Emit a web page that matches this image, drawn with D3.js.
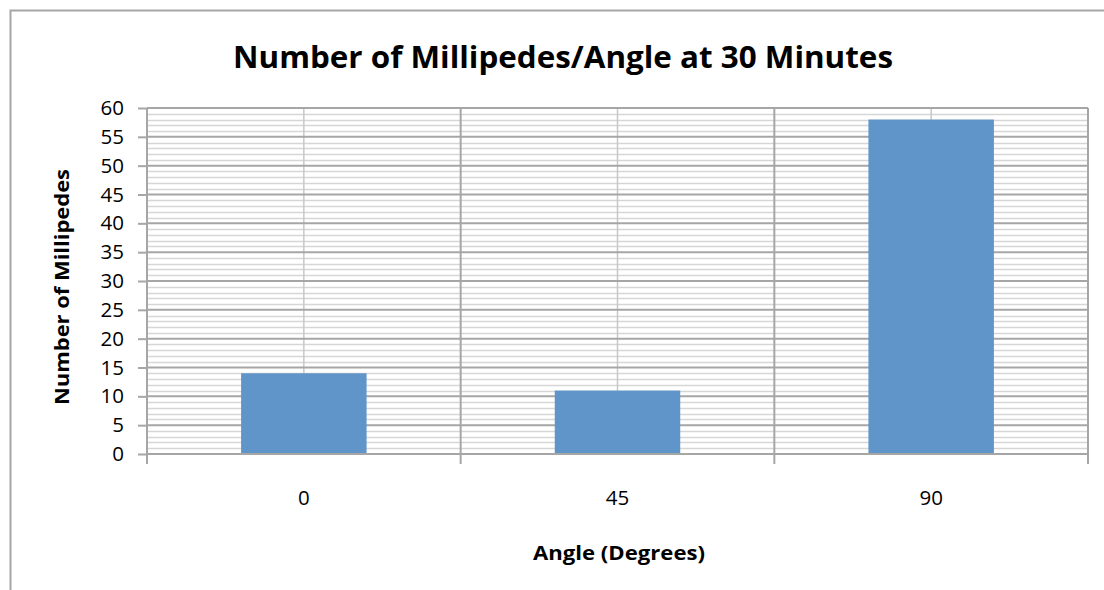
<!DOCTYPE html>
<html>
<head>
<meta charset="utf-8">
<script src="https://cdn.jsdelivr.net/npm/d3@7"></script>
<style>
  body { margin: 0; background: #fff; }
  svg text { font-family: "Open Sans", "Liberation Sans", sans-serif; fill: #000; }
</style>
</head>
<body>
<div id="chartDiv"></div>
<script>
// data
var categories = ["0", "45", "90"];
var millipedes = [14, 11, 58];
var yTicks = [0, 5, 10, 15, 20, 25, 30, 35, 40, 45, 50, 55, 60];

var outerWidth = 1104, outerHeight = 590;
var margin = {top: 108, right: 16, bottom: 136, left: 147};
var width = 1088 - margin.left,
    height = 454 - margin.top;

var svg = d3.select("#chartDiv")
    .append("svg")
    .attr("width", outerWidth)
    .attr("height", outerHeight);

// chart frame (only top and left edges fall inside the picture)
svg.append("rect")
    .attr("x", 10.5).attr("y", 10.5)
    .attr("width", 1110).attr("height", 600)
    .attr("fill", "none")
    .attr("stroke", "#a6a6a6")
    .attr("stroke-width", 2);

var g = svg.append("g")
    .attr("transform", "translate(" + margin.left + "," + margin.top + ")");

var x = d3.scaleBand()
    .domain(categories)
    .range([0, width])
    .paddingInner(0.6)
    .paddingOuter(0.3);

var xOuter = d3.scaleBand().domain(categories).range([0, width]);

var y = d3.scaleLinear().domain([0, 60]).range([height, 0]);

// minor gridlines every 1
g.append("g").selectAll("line")
    .data(d3.range(1, 60).filter(v => v % 5 !== 0))
    .enter().append("line")
    .attr("x1", 0).attr("x2", width)
    .attr("y1", d => Math.round(y(d)) + 0.5)
    .attr("y2", d => Math.round(y(d)) + 0.5)
    .attr("stroke", "#d6d6d6")
    .attr("stroke-width", 1.5);

// vertical lines at category centres
g.append("g").selectAll("line")
    .data(categories)
    .enter().append("line")
    .attr("x1", d => xOuter(d) + xOuter.bandwidth() / 2)
    .attr("x2", d => xOuter(d) + xOuter.bandwidth() / 2)
    .attr("y1", 0).attr("y2", height)
    .attr("stroke", "#c8c8c8")
    .attr("stroke-width", 1.5);

// major gridlines every 5
g.append("g").selectAll("line")
    .data(yTicks)
    .enter().append("line")
    .attr("x1", 0).attr("x2", width)
    .attr("y1", d => y(d)).attr("y2", d => y(d))
    .attr("stroke", "#a6a6a6")
    .attr("stroke-width", 2);

// vertical lines at category boundaries, with ticks below the axis
g.append("g").selectAll("line")
    .data(categories.slice(1).map(c => xOuter(c)).concat([width]))
    .enter().append("line")
    .attr("x1", d => d).attr("x2", d => d)
    .attr("y1", 0).attr("y2", height + 10)
    .attr("stroke", "#a6a6a6")
    .attr("stroke-width", 2);

// bars
g.selectAll(".bar")
    .data(millipedes)
    .enter().append("rect")
    .attr("class", "bar")
    .attr("x", (d, i) => x(categories[i]))
    .attr("width", x.bandwidth())
    .attr("y", d => y(d))
    .attr("height", d => height - y(d))
    .attr("fill", "#5f95c9");

// y axis
var yAxis = g.append("g")
    .call(d3.axisLeft(y).tickValues(yTicks).tickSize(9).tickPadding(14));
yAxis.select(".domain").attr("stroke", "#a6a6a6").attr("stroke-width", 2)
    .attr("d", "M0," + (height + 10) + "V0");
yAxis.selectAll(".tick line").attr("stroke", "#a6a6a6").attr("stroke-width", 2);
yAxis.selectAll("text").style("font-size", "20.5px").attr("fill", "#000");

// x axis
var xAxis = g.append("g")
    .attr("transform", "translate(0," + height + ")")
    .call(d3.axisBottom(xOuter).tickSize(0).tickPadding(36));
xAxis.select(".domain").attr("stroke", "#a6a6a6").attr("stroke-width", 2)
    .attr("d", "M0,0H" + width);
xAxis.selectAll("text").style("font-size", "20.5px").attr("fill", "#000");

// titles
svg.append("text")
    .attr("x", 563).attr("y", 68)
    .attr("text-anchor", "middle")
    .style("font-size", "30px").style("font-weight", "bold")
    .attr("textLength", 660).attr("lengthAdjust", "spacingAndGlyphs")
    .text("Number of Millipedes/Angle at 30 Minutes");

svg.append("text")
    .attr("x", 619).attr("y", 560)
    .attr("text-anchor", "middle")
    .style("font-size", "20px").style("font-weight", "bold")
    .attr("textLength", 172).attr("lengthAdjust", "spacingAndGlyphs")
    .text("Angle (Degrees)");

svg.append("text")
    .attr("transform", "translate(69,287) rotate(-90)")
    .attr("text-anchor", "middle")
    .style("font-size", "20px").style("font-weight", "bold")
    .attr("textLength", 236).attr("lengthAdjust", "spacingAndGlyphs")
    .text("Number of Millipedes");
</script>
</body>
</html>
